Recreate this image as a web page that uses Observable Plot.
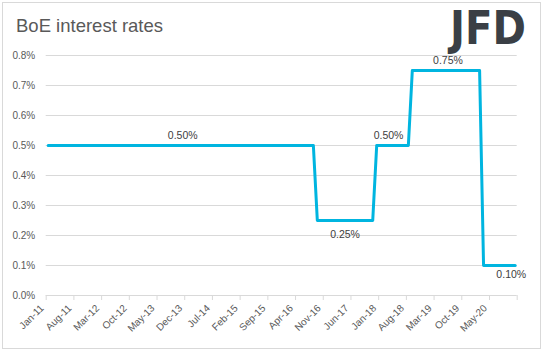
<!DOCTYPE html>
<html>
<head>
<meta charset="utf-8">
<script src="https://cdn.jsdelivr.net/npm/d3@7"></script>
<script src="https://cdn.jsdelivr.net/npm/@observablehq/plot@0.6"></script>
<style>
  html, body { margin: 0; padding: 0; background: #fff; }
  #wrap { position: relative; width: 543px; height: 351px; overflow: hidden; }
  #frame { position: absolute; left: 2px; top: 2px; width: 537px; height: 345px; border: 1px solid #d9d9d9; pointer-events: none; }
  #title { position: absolute; left: 16px; top: 15px; font-family: "Liberation Sans", Arial, sans-serif; font-size: 18.5px; color: #595959; white-space: nowrap; }
  #logo { position: absolute; left: 446px; top: 0px; overflow: visible; }
  #chart { position: absolute; left: 0; top: 0; }
</style>
</head>
<body>
<div id="wrap">
  <div id="chart"></div>
  <div id="title">BoE interest rates</div>
  <svg id="logo" width="90" height="52" viewBox="0 0 90 52">
    <text x="4" y="44" font-family="DejaVu Sans" font-weight="bold" font-size="47" fill="#3a3f45" textLength="76" lengthAdjust="spacingAndGlyphs">JFD</text>
  </svg>
  <div id="frame"></div>
</div>
<script>
// ---- data ----
const firstMonth = "Jan-11";
const lastMonth = "Nov-20";
const changeMonths = ["Jan-11", "Sep-16", "Dec-17", "Sep-18", "Mar-20"];
const changeRates = [0.5, 0.25, 0.5, 0.75, 0.1];
const xTickLabels = ["Jan-11","Aug-11","Mar-12","Oct-12","May-13","Dec-13","Jul-14","Feb-15","Sep-15","Apr-16","Nov-16","Jun-17","Jan-18","Aug-18","Mar-19","Oct-19","May-20"];
const yTicks = [0, 0.1, 0.2, 0.3, 0.4, 0.5, 0.6, 0.7, 0.8];
const labelMonths = ["Nov-13", "Apr-17", "Mar-18", "Jun-19", "Oct-20"];
const labelRates = [0.5, 0.25, 0.5, 0.75, 0.1];

// ---- build ----
const parse = d3.timeParse("%b-%y");
const fmt = d3.timeFormat("%b-%y");
const months = d3.timeMonth.range(parse(firstMonth), d3.timeMonth.offset(parse(lastMonth), 1));
const monthIndex = new Map(months.map((d, i) => [fmt(d), i]));
const changeIdx = changeMonths.map(m => monthIndex.get(m));
const series = months.map((d, i) => {
  let r = changeRates[0];
  changeIdx.forEach((ci, k) => { if (i >= ci) r = changeRates[k]; });
  return {i, rate: r};
});
const tickIdx = xTickLabels.map(m => monthIndex.get(m));
const boundaries = d3.range(-0.5, months.length, 7);
const labels = labelMonths.map((m, k) => ({i: monthIndex.get(m), rate: labelRates[k], text: labelRates[k].toFixed(2) + "%"}));
const above = labels.filter(d => d.text === "0.50%" || d.text === "0.75%");
const below1 = labels.filter(d => d.text === "0.25%");
const below2 = labels.filter(d => d.text === "0.10%");

const chart = Plot.plot({
  width: 543,
  height: 351,
  marginLeft: 45.7,
  marginRight: 26.3,
  marginTop: 55,
  marginBottom: 56,
  style: {fontFamily: "Liberation Sans, Arial, sans-serif", fontSize: "10px", color: "#595959", background: "transparent"},
  x: {domain: [-0.5, months.length - 0.5], label: null},
  y: {domain: [0, 0.8], label: null},
  marks: [
    Plot.gridY(yTicks, {stroke: "#d9d9d9", strokeOpacity: 1, strokeWidth: 1}),
    Plot.axisY(yTicks, {tickSize: 0, tickPadding: 11, tickFormat: d => d.toFixed(1) + "%", fill: "#595959", label: null}),
    Plot.axisX(boundaries, {tickSize: 5, stroke: "#d9d9d9", tickFormat: () => "", label: null}),
    Plot.axisX(tickIdx, {tickSize: 0, tickPadding: 6, tickRotate: -45, dx: -6, dy: 5, tickFormat: i => fmt(months[i]), fill: "#595959", label: null}),
    Plot.line(series, {x: "i", y: "rate", stroke: "#00b5e0", strokeWidth: 3}),
    Plot.text(above, {x: "i", y: "rate", text: "text", lineAnchor: "bottom", dy: -7, fill: "#404040", fontSize: 10.5}),
    Plot.text(below1, {x: "i", y: "rate", text: "text", lineAnchor: "bottom", dy: 17, fill: "#404040", fontSize: 10.5}),
    Plot.text(below2, {x: "i", y: "rate", text: "text", lineAnchor: "bottom", dy: 12, fill: "#404040", fontSize: 10.5})
  ]
});
document.getElementById("chart").appendChild(chart);
</script>
</body>
</html>
